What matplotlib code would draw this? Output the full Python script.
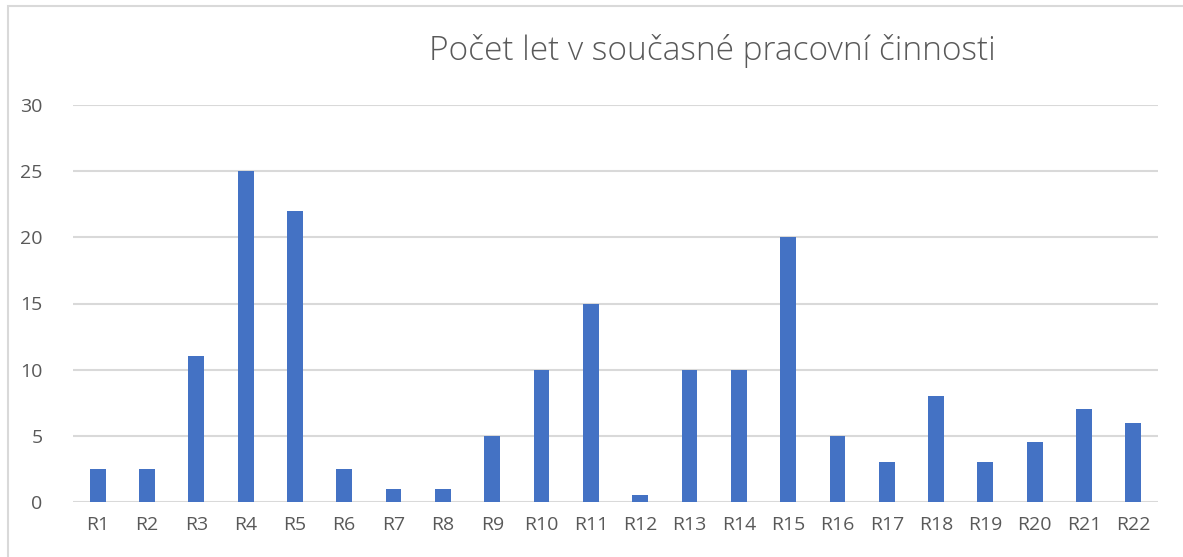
import matplotlib.pyplot as plt
from matplotlib.patches import Rectangle

# Data
categories = ['R1', 'R2', 'R3', 'R4', 'R5', 'R6', 'R7', 'R8', 'R9', 'R10', 'R11',
              'R12', 'R13', 'R14', 'R15', 'R16', 'R17', 'R18', 'R19', 'R20', 'R21', 'R22']
values = [2.5, 2.5, 11, 25, 22, 2.5, 1, 1, 5, 10, 15,
          0.5, 10, 10, 20, 5, 3, 8, 3, 4.5, 7, 6]
y_ticks = [0, 5, 10, 15, 20, 25, 30]
title = 'Počet let v současné pracovní činnosti'

plt.rcParams['font.family'] = ['Open Sans', 'DejaVu Sans']

W, H = 1183, 557
fig = plt.figure(figsize=(W / 100, H / 100), dpi=100)
fig.patch.set_facecolor('white')

# chart-area border (light gray, cut at right/bottom)
fig.patches.append(Rectangle((8 / W, -0.1), 1.2, (H - 6) / H + 0.1,
                             transform=fig.transFigure, fill=False,
                             edgecolor='#d9d9d9', linewidth=1.5))

ax = fig.add_axes([73 / W, 55 / H, (1158 - 73) / W, (502 - 105) / H])
x = range(len(categories))
ax.bar(x, values, width=0.32, color='#4472c4', zorder=3)

ax.set_xlim(-0.5, len(categories) - 0.5)
ax.set_ylim(0, 30)
ax.set_yticks(y_ticks)
ax.set_xticks(list(x))
ax.set_xticklabels(categories)
ax.grid(axis='y', color='#d9d9d9', linewidth=1.5, zorder=0)
for s in ax.spines.values():
    s.set_visible(False)
ax.tick_params(axis='both', length=0, colors='#595959', labelsize=14)
ax.tick_params(axis='y', pad=22)
ax.tick_params(axis='x', pad=10)

fig.text(712 / W, 1 - 51 / H, title, ha='center', va='center',
         fontsize=24, color='#595959', fontweight='light')

fig.savefig('out.png', dpi=100)
